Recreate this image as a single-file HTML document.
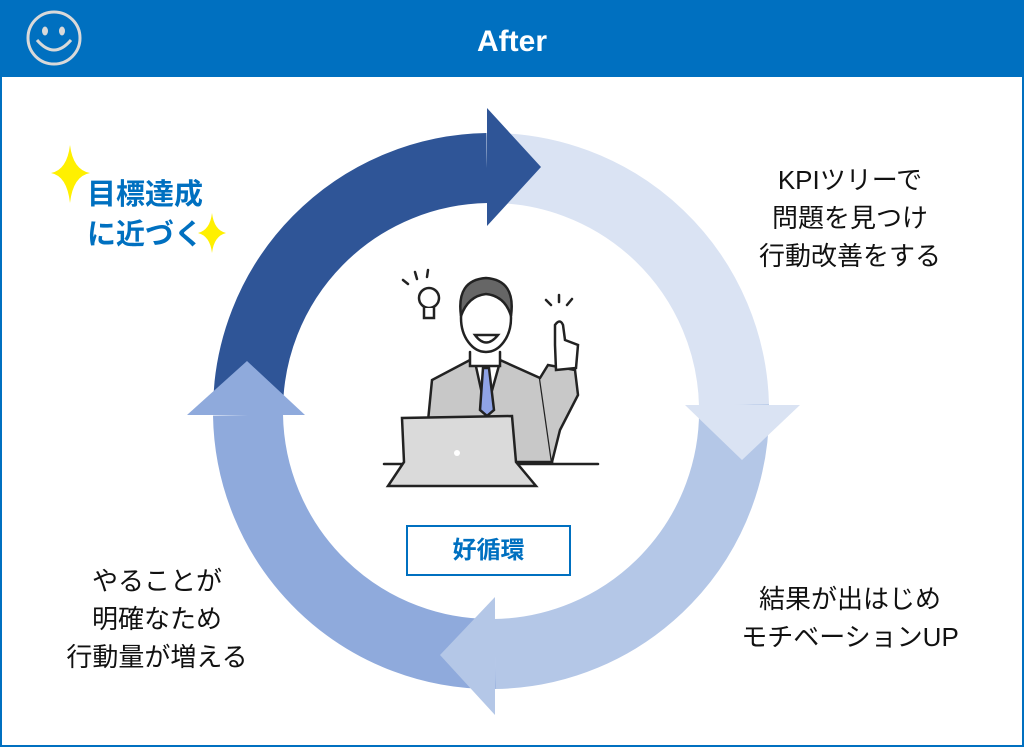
<!DOCTYPE html>
<html><head><meta charset="utf-8"><style>
html,body{margin:0;padding:0;}
body{width:1024px;height:747px;position:relative;overflow:hidden;background:#fff;font-family:"Liberation Sans","Noto Sans CJK JP",sans-serif;}
.frame{position:absolute;left:0;top:0;width:1020px;height:743px;border:2px solid #0070C0;}
.hdr{position:absolute;left:0;top:0;width:1024px;height:77px;background:#0070C0;}
.t{position:absolute;text-align:center;font-size:26px;color:#111;line-height:38px;white-space:nowrap;}
</style></head><body>
<div class="frame"></div>
<div class="hdr"></div>
<div style="position:absolute;left:0;top:25px;width:1024px;text-align:center;color:#fff;font-weight:bold;font-size:30px;">After</div>
<svg width="1024" height="747" style="position:absolute;left:0;top:0">
 <g fill="none" stroke="#D9D9D9" stroke-width="3">
  <circle cx="54" cy="38" r="26"/>
  <path d="M37 40 Q54 60 71 40"/>
 </g>
 <ellipse cx="45" cy="31" rx="3" ry="4.5" fill="#D9D9D9"/>
 <ellipse cx="62" cy="31" rx="3" ry="4.5" fill="#D9D9D9"/>
 <g fill="none" stroke-width="70">
  <path d="M248 411 A243 243 0 0 1 487 168" stroke="#2F5597"/>
  <path d="M487 168 A243 243 0 0 1 734 405" stroke="#DAE3F3"/>
  <path d="M734 405 A243 243 0 0 1 495 654" stroke="#B4C7E7"/>
  <path d="M495 654 A243 243 0 0 1 248 415" stroke="#8FAADC"/>
 </g>
 <polygon points="487,108 541,167 487,226" fill="#2F5597"/>
 <polygon points="685,405 800,405 742,460" fill="#DAE3F3"/>
 <polygon points="495,597 495,715 440,655" fill="#B4C7E7"/>
 <polygon points="187,415 305,415 247,361" fill="#8FAADC"/>
 <path d="M70 145 Q73 170 90 173 Q73 176 70 203 Q67 176 51 173 Q67 170 70 145Z" fill="#FFF000"/>
 <path d="M212 213 Q214 230 226 233 Q214 236 212 253 Q210 236 198 233 Q210 230 212 213Z" fill="#FFF000"/>
 <g stroke="#222" stroke-width="2.5" stroke-linecap="round">
  <path d="M384 464 L598 464"/>
  <path d="M424 462 L432 380 L470 360 L500 360 L540 378 L552 462Z" fill="#C8C8C8"/>
  <path d="M540 378 L548 365 L575 370 L578 395 L560 430 L552 462" fill="#C8C8C8"/>
  <path d="M475 362 L486 412 L500 362Z" fill="#fff"/>
  <path d="M483 368 L480 410 L487 416 L494 410 L489 368Z" fill="#8FA3E6"/>
  <path d="M470 352 L470 366 L500 366 L500 352" fill="#fff"/>
  <ellipse cx="486" cy="318" rx="25" ry="34" fill="#fff"/>
  <path d="M461 316 Q456 280 486 278 Q516 280 511 316 Q505 296 486 294 Q468 296 461 316Z" fill="#666"/>
  <path d="M475 335 Q486 350 498 335Z" fill="#fff"/>
  <path d="M555 345 L555 325 Q560 318 563 325 L565 340 L578 345 L576 368 L556 370Z" fill="#fff"/>
  <circle cx="429" cy="298" r="10" fill="#fff"/>
  <path d="M424 308 L424 318 L434 318 L434 308" fill="#fff"/>
  <path d="M403 280 L408 284 M415 272 L417 279 M428 270 L427 277 M546 300 L551 305 M559 295 L559 302 M572 299 L567 305"/>
  <path d="M404 462 L402 418 L512 416 L516 462 L536 486 L388 486 Z" fill="#DADADA"/>
 </g>
 <circle cx="457" cy="453" r="3" fill="#fff"/>
</svg>
<div style="position:absolute;left:406px;top:525px;width:161px;height:47px;border:2px solid #0070C0;background:#fff;color:#0070C0;font-weight:bold;font-size:24px;line-height:47px;text-align:center;">好循環</div>
<div style="position:absolute;left:70px;top:175px;width:150px;text-align:center;color:#0070C0;font-weight:bold;font-size:29px;line-height:40px;">目標達成<br>に近づく</div>
<div class="t" style="left:730px;top:161px;width:240px;">KPIツリーで<br>問題を見つけ<br>行動改善をする</div>
<div class="t" style="left:730px;top:580px;width:240px;">結果が出はじめ<br>モチベーションUP</div>
<div class="t" style="left:37px;top:562px;width:240px;">やることが<br>明確なため<br>行動量が増える</div>
</body></html>
